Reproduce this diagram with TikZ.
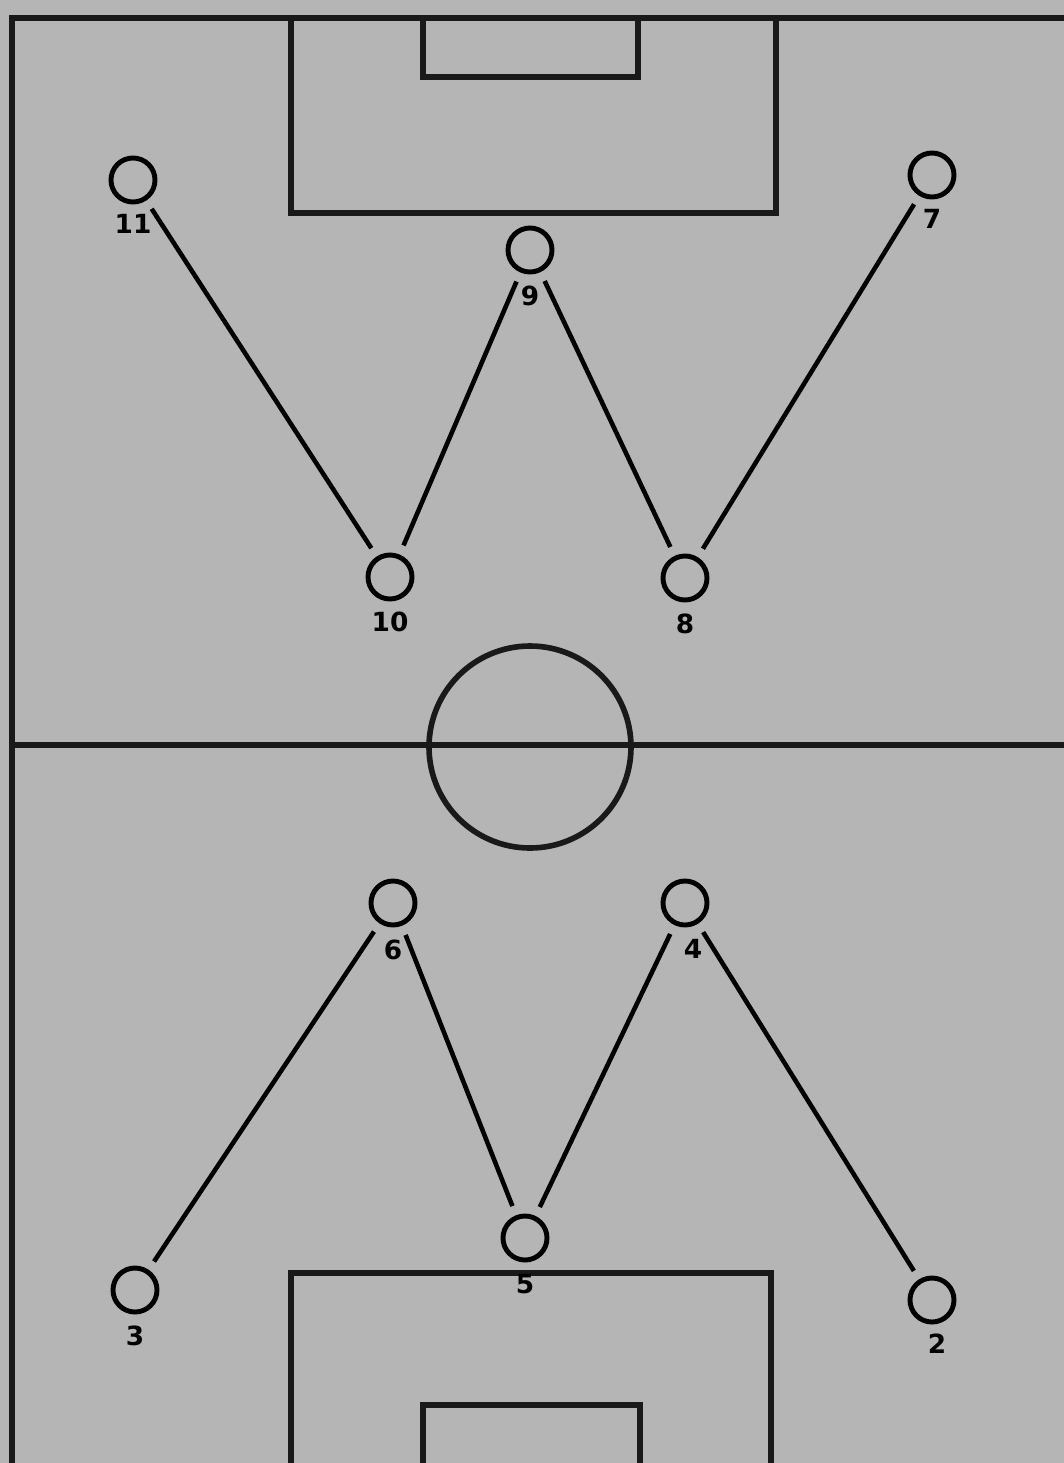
\documentclass[tikz,border=0pt]{standalone}
\usepackage{fontspec}
\setsansfont{DejaVu Sans}
\usetikzlibrary{positioning}
\definecolor{pitch}{RGB}{181,181,181}

\begin{document}
\begin{tikzpicture}[
  x=0.01cm, y=-0.01cm,
  field/.style={line width=1.6pt, black!90},
  player/.style={draw, circle, line width=1.4pt, minimum size=0.44cm, inner sep=0pt},
  num/.style={font=\fontsize{7.5}{9}\selectfont\bfseries\sffamily, inner sep=1pt},
  pass/.style={line width=1.3pt, shorten <=2.8pt, shorten >=2.8pt}
]
\fill[pitch] (0,0) rectangle (1064,1463);
\useasboundingbox (0,0) rectangle (1064,1463);
% pitch lines
\draw[field] (12,1463) -- (12,18) -- (1064,18);
\draw[field] (12,745) -- (1064,745);
\draw[field] (530,747) circle (101);
\draw[field] (291,18) -- (291,213) -- (776,213) -- (776,18);
\draw[field] (423,18) -- (423,77) -- (638,77) -- (638,18);
\draw[field] (291,1463) -- (291,1273) -- (771,1273) -- (771,1463);
\draw[field] (423,1463) -- (423,1405) -- (640,1405) -- (640,1463);
% forwards
\node[player] (p11) at (133,180) {};
\node[player] (p9) at (530,250) {};
\node[player] (p7) at (932,175) {};
\node[player] (p10) at (390,577) {};
\node[player] (p8) at (685,578) {};
% backs
\node[player] (p6) at (393,903) {};
\node[player] (p4) at (685,903) {};
\node[player] (p5) at (525,1238) {};
\node[player] (p3) at (135,1290) {};
\node[player] (p2) at (932,1300) {};
% numbers
\node[num, below=0.06cm of p11] (n11) {11};
\node[num, below=0.07cm of p9] (n9) {9};
\node[num, below=0.06cm of p7] (n7) {7};
\node[num, below=0.06cm of p10] (n10) {10};
\node[num, below=0.07cm of p8] (n8) {8};
\node[num, below=0.08cm of p6] (n6) {6};
\node[num, below=0.08cm of p4, xshift=0.08cm] (n4) {4};
\node[num, below=0.08cm of p5] (n5) {5};
\node[num, below=0.07cm of p3] (n3) {3};
\node[num, below=0.05cm of p2, xshift=0.05cm] (n2) {2};
% W and M
\draw[pass] (p11) -- (p10);
\draw[pass] (p10) -- (p9);
\draw[pass] (p9) -- (p8);
\draw[pass] (p8) -- (p7);
\draw[pass] (p3) -- (p6);
\draw[pass] (p6) -- (p5);
\draw[pass] (p5) -- (p4);
\draw[pass] (p4) -- (p2);
\end{tikzpicture}
\end{document}
